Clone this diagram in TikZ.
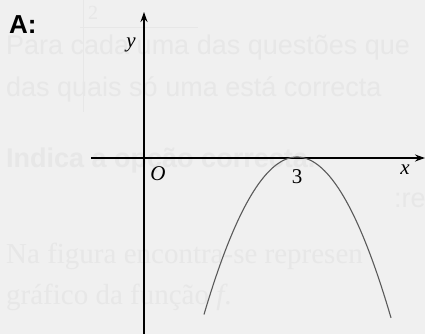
\documentclass[tikz,border=0pt]{standalone}
\usepackage{fontspec}
\setmainfont{Liberation Serif}
\setsansfont{Liberation Sans}
\usetikzlibrary{arrows.meta}
\definecolor{paper}{HTML}{F0F0F0}
\definecolor{ghost}{HTML}{E7E7E7}
\definecolor{curve}{HTML}{5A5A5A}
\tikzset{
  axis/.style={line width=1.3pt, -{Stealth[length=10pt,width=7pt]}},
  ghosttext/.style={text=ghost, anchor=base west, inner sep=0pt},
  lbl/.style={inner sep=0pt, font=\fontsize{21}{21}\selectfont},
}
\begin{document}
\begin{tikzpicture}[x=1pt,y=-1pt]
\useasboundingbox (0,0) rectangle (425,334);
\fill[paper] (0,0) rectangle (425,334);
\begin{scope}
\clip (0,0) rectangle (425,334);
\node[ghosttext, font=\sffamily\fontsize{27}{27}\selectfont] (g1) at (6,55) {Para cada uma das questões que};
\node[ghosttext, font=\sffamily\fontsize{27}{27}\selectfont] (g2) at (6,97) {das quais só uma está correcta};
\node[ghosttext, font=\sffamily\bfseries\fontsize{27}{27}\selectfont] (g3) at (6,167) {Indica a opção correcta.};
\node[ghosttext, font=\sffamily\fontsize{27}{27}\selectfont] (g4) at (394,207) {:re};
\node[ghosttext, font=\fontsize{29}{29}\selectfont] (g5) at (6,263) {Na figura encontra-se represen};
\node[ghosttext, font=\fontsize{29}{29}\selectfont] (g6) at (6,304) {gráfico da função \textit{f}.};
\node[ghosttext, font=\fontsize{20}{20}\selectfont] (g7) at (88,20) {2};
\draw[ghost, line width=0.8pt] (80,27) -- (198,27);
\draw[ghost, line width=0.8pt] (83,0) -- (83,112);
\end{scope}
\coordinate (yb) at (144,334);
\coordinate (yt) at (144,12);
\coordinate (xl) at (91,158);
\coordinate (xr) at (425,158);
\draw[axis] (yb) -- (yt);
\draw[axis] (xl) -- (xr);
\draw[curve, line width=1.1pt] plot[domain=204:391, samples=80] (\x, {157+0.0182*(\x-297)*(\x-297)});
\node[lbl, anchor=base west, font=\sffamily\bfseries\fontsize{26}{26}\selectfont] (A) at (9,34) {A:};
\node[lbl, anchor=base] (ylab) at (131,48) {\textit{y}};
\node[lbl, anchor=base] (O) at (158,180) {\textit{O}};
\node[lbl, anchor=base] (three) at (297,183) {3};
\node[lbl, anchor=base] (xlab) at (405,174) {\textit{x}};
\end{tikzpicture}
\end{document}
